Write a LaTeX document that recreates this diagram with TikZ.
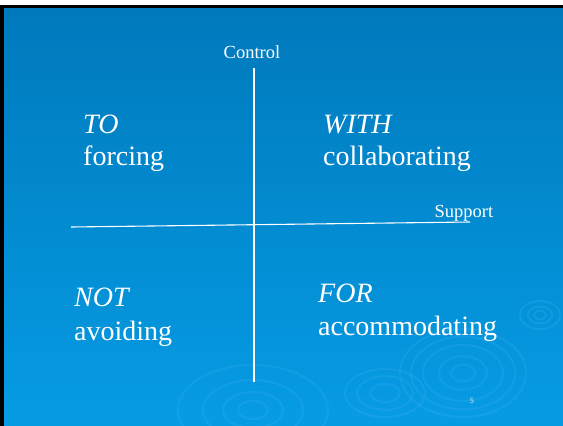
\documentclass[tikz,border=0pt]{standalone}
\usepackage{fontspec}
\setmainfont{Liberation Serif}
\usetikzlibrary{calc}
\definecolor{slidetop}{RGB}{0,121,188}
\definecolor{slidebot}{RGB}{6,156,228}
\definecolor{ripple}{RGB}{60,175,240}
\definecolor{pagenum}{RGB}{200,225,240}
\tikzset{
  axis_l/.style = {draw=white, line width=1.1pt},
  axis_t/.style = {inner sep=0pt, anchor=base, white, font=\fontsize{18.5}{20}\selectfont},
  quad_t/.style = {inner sep=0pt, anchor=base west, white, font=\fontsize{28}{30}\selectfont},
  quad_i/.style = {quad_t, font=\fontsize{28}{30}\selectfont\itshape},
  ring/.style = {draw=ripple, opacity=0.25, line width=2pt}
}
\begin{document}
\begin{tikzpicture}[x=1pt,y=-1pt]
	\useasboundingbox (0,0) rectangle (563,426);
	% slide background
	\fill[white] (0,0) rectangle (563,5);
	\fill[black] (0,5) rectangle (563,8);
	\fill[black] (0,5) rectangle (4,426);
	\shade[top color=slidetop, bottom color=slidebot] (4,8) rectangle (563,426);
	% ripples
	\begin{scope}
		\clip (4,8) rectangle (563,426);
		\foreach \r in {12,24,40,52,63}
			\draw[ring] (463,373) circle[x radius=\r, y radius=0.7*\r];
		\foreach \r in {6,12,20}
			\draw[ring] (540,315) circle[x radius=\r, y radius=0.7*\r];
		\foreach \r in {15,30,50,75}
			\draw[ring] (253,410) circle[x radius=\r, y radius=0.6*\r];
		\foreach \r in {15,28,40}
			\draw[ring] (385,393) circle[x radius=\r, y radius=0.6*\r];
	\end{scope}
	% axes
	\coordinate (ctop) at (254,68);
	\coordinate (cbot) at (254,382);
	\coordinate (sleft) at (71,227);
	\coordinate (sright) at (470,222);
	\draw[axis_l] (ctop) -- (cbot);
	\draw[axis_l] (sleft) -- (sright);
	\node[axis_t] (control) at (252,58) {Control};
	\node[axis_t] (support) at (464,217) {Support};
	% quadrants
	\node[quad_i] (to) at (83,133) {TO};
	\node[quad_t] (forcing) at (83,165) {forcing};
	\node[quad_i] (with) at (323,133) {WITH};
	\node[quad_t] (collab) at (323,165) {collaborating};
	\node[quad_i] (not) at (74,306) {NOT};
	\node[quad_t] (avoid) at (74,340) {avoiding};
	\node[quad_i] (for) at (318,302) {FOR};
	\node[quad_t] (accom) at (318,335) {accommodating};
	\node[inner sep=0pt, anchor=base, pagenum, font=\fontsize{8}{9}\selectfont\sffamily] (page) at (472,403) {5};
\end{tikzpicture}
\end{document}
